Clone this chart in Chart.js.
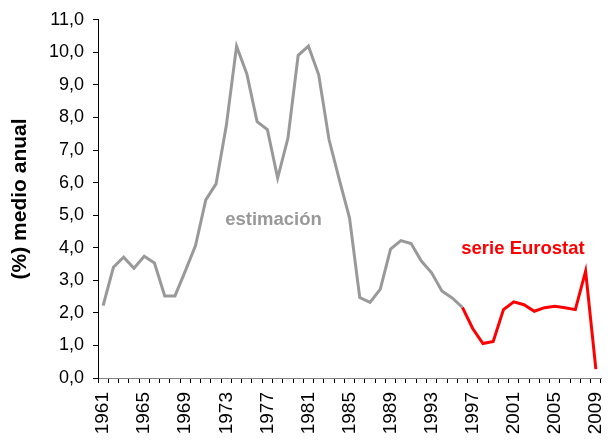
<!DOCTYPE html>
<html>
<head>
<meta charset="utf-8">
<script src="https://cdn.jsdelivr.net/npm/chart.js@4.4.1/dist/chart.umd.min.js"></script>
<style>
  html, body { margin: 0; padding: 0; background: #fff; }
  #wrap { width: 612px; height: 441px; }
</style>
</head>
<body>
<div id="wrap"><canvas id="c" width="612" height="441"></canvas></div>
<script>
const years = [];
for (let y = 1961; y <= 2009; y++) years.push(String(y));

const estimacion = [
  2.22, 3.40, 3.71, 3.37, 3.74, 3.53, 2.52, 2.52, 3.28, 4.07,
  5.47, 5.96, 7.75, 10.19, 9.34, 7.87, 7.63, 6.14, 7.36, 9.91,
  10.19, 9.31, 7.33, 6.10, 4.92, 2.47, 2.32, 2.73, 3.96, 4.22,
  4.13, 3.59, 3.23, 2.67, 2.46, 2.17
];
const eurostat = [
  2.17, 1.52, 1.06, 1.12, 2.10, 2.34, 2.25, 2.05, 2.16, 2.20,
  2.16, 2.10, 3.28, 0.27
];
const yTicks = [0,1,2,3,4,5,6,7,8,9,10,11];
const labelEstimacion = 'estimación';
const labelEurostat = 'serie Eurostat';

const grayData = years.map((y, i) => i < estimacion.length ? estimacion[i] : null);
const redStart = years.indexOf('1996');
const redData = years.map((y, i) => i >= redStart ? eurostat[i - redStart] : null);

const annot = {
  id: 'annot',
  afterDatasetsDraw(chart) {
    const {ctx, scales: {x, y}} = chart;
    ctx.save();
    ctx.textAlign = 'center';
    ctx.textBaseline = 'middle';
    ctx.font = 'bold 18.5px "Liberation Sans", Arial, sans-serif';
    ctx.fillStyle = '#999999';
    ctx.fillText(labelEstimacion, x.getPixelForValue(16.6), y.getPixelForValue(4.86));
    ctx.fillStyle = '#ff0000';
    ctx.fillText(labelEurostat, x.getPixelForValue(40.9), y.getPixelForValue(3.95));
    ctx.restore();
  }
};

new Chart(document.getElementById('c'), {
  type: 'line',
  data: {
    labels: years,
    datasets: [
      { data: grayData, borderColor: '#999999', borderWidth: 3, pointRadius: 0, tension: 0, spanGaps: false },
      { data: redData, borderColor: '#ff0000', borderWidth: 3, pointRadius: 0, tension: 0, spanGaps: false }
    ]
  },
  options: {
    responsive: false,
    animation: false,
    layout: { padding: { left: 0, right: 11, top: 15, bottom: 0 } },
    plugins: { legend: { display: false }, tooltip: { enabled: false } },
    scales: {
      x: {
        type: 'category',
        offset: true,
        grid: { display: true, drawOnChartArea: false, offset: true, tickLength: 5, color: '#000', lineWidth: 1 },
        border: { display: true, color: '#808080', width: 1 },
        ticks: {
          autoSkip: false,
          maxRotation: 90,
          minRotation: 90,
          padding: 9,
          color: '#000',
          font: { family: '"Liberation Sans", Arial, sans-serif', size: 19 },
          callback: function(val, idx) { return idx % 4 === 0 ? this.getLabelForValue(val) : ''; }
        },
        afterFit(scale) { scale.height = 63; scale.paddingLeft = 0; scale.paddingRight = 0; }
      },
      y: {
        min: 0,
        max: 11,
        afterBuildTicks(scale) { scale.ticks = yTicks.map(v => ({ value: v })); },
        grid: { display: true, drawOnChartArea: false, tickLength: 5, color: '#000', lineWidth: 1 },
        border: { display: true, color: '#000', width: 1 },
        ticks: {
          padding: 9,
          color: '#000',
          font: { family: '"Liberation Sans", Arial, sans-serif', size: 18 },
          callback: v => v.toFixed(1).replace('.', ',')
        },
        title: {
          display: true,
          text: '(%) medio anual',
          color: '#000',
          font: { family: '"Liberation Sans", Arial, sans-serif', size: 21, weight: 'bold' },
          padding: { top: 8, bottom: 0 }
        },
        afterFit(scale) { scale.width = 98; }
      }
    }
  },
  plugins: [annot]
});
</script>
</body>
</html>
